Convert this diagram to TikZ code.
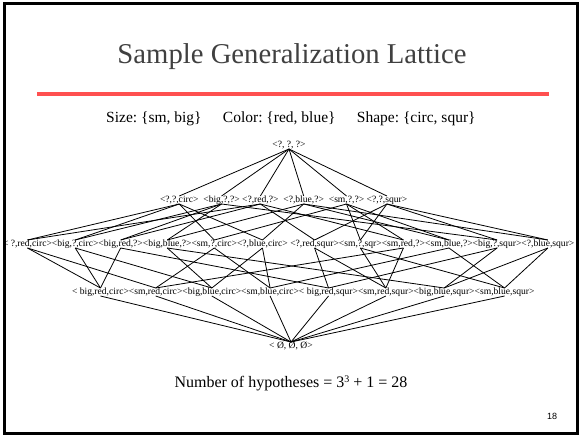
\documentclass[tikz,border=0pt]{standalone}
\usepackage{fontspec}
\setmainfont{Liberation Serif}
\newfontfamily\pagefont{Liberation Sans}
\usetikzlibrary{positioning}
\frenchspacing
\definecolor{titlegray}{HTML}{404040}
\definecolor{rulered}{HTML}{FF5050}
\tikzset{lbl/.style={inner sep=0pt,outer sep=0pt,font=\fontsize{9.6}{11}\selectfont,text height=6.5pt,text depth=1.5pt},
  link/.style={line width=0.8pt},
  big text/.style={font=\fontsize{15.5}{18}\selectfont,inner sep=0pt,text height=11pt,text depth=3.5pt}}

\begin{document}
\begin{tikzpicture}[x=1pt,y=-1pt]
\useasboundingbox (0,0) rectangle (581,436);
\draw[line width=3pt] (4,4) rectangle (577,433);
\node[text=titlegray,font=\fontsize{28.7}{34}\selectfont] (title) at (292,57) {Sample Generalization Lattice};
\draw[rulered,line width=4pt] (37,94) -- (549,94);
\node[big text,anchor=west] (size) at (106,119) {Size: \{sm, big\}};
\node[big text,right=21pt of size] (color) {Color: \{red, blue\}};
\node[big text,right=21pt of color] (shape) {Shape: \{circ, squr\}};
% lattice, most general at the top
\node[lbl] (top) at (289,145) {<?, ?, ?>};
\node[lbl,anchor=west] (qqc) at (160,200) {<?,?,circ>};
\node[lbl,right=4.8pt of qqc] (bqq) {<big,?,?>};
\node[lbl,right=2.4pt of bqq] (qrq) {<?,red,?>};
\node[lbl,right=4.8pt of qrq] (qbq) {<?,blue,?>};
\node[lbl,right=4.8pt of qbq] (sqq) {<sm,?,?>};
\node[lbl,right=2.4pt of sqq] (qqs) {<?,?,squr>};
\node[lbl,anchor=west] (qrc) at (3,244) {< ?,red,circ>};
\node[lbl,right=0pt of qrc] (bqc) {<big,?,circ>};
\node[lbl,right=0pt of bqc] (brq) {<big,red,?>};
\node[lbl,right=0pt of brq] (bbq) {<big,blue,?>};
\node[lbl,right=0pt of bbq] (sqc) {<sm,?,circ>};
\node[lbl,right=0pt of sqc] (qbc) {<?,blue,circ>};
\node[lbl,right=2.4pt of qbc] (qrs) {<?,red,squr>};
\node[lbl,right=0pt of qrs] (sqs) {<sm,?,sqr>};
\node[lbl,right=0pt of sqs] (srq) {<sm,red,?>};
\node[lbl,right=0pt of srq] (sbq) {<sm,blue,?>};
\node[lbl,right=0pt of sbq] (bqs) {<big,?,squr>};
\node[lbl,right=0pt of bqs] (qbs) {<?,blue,squr>};
\node[lbl,anchor=west] (brc) at (72,292) {< big,red,circ>};
\node[lbl,right=0pt of brc] (src) {<sm,red,circ>};
\node[lbl,right=0pt of src] (bbc) {<big,blue,circ>};
\node[lbl,right=0pt of bbc] (sbc) {<sm,blue,circ>};
\node[lbl,right=0pt of sbc] (brs) {< big,red,squr>};
\node[lbl,right=0pt of brs] (srs) {<sm,red,squr>};
\node[lbl,right=0pt of srs] (bbs) {<big,blue,squr>};
\node[lbl,right=0pt of bbs] (sbs) {<sm,blue,squr>};
\node[lbl] (bot) at (291,346) {< Ø, Ø, Ø>};
\foreach \n in {qqc,bqq,qrq,qbq,sqq,qqs}
  \draw[link] (top.south) -- (\n.north);
\foreach \a/\b in {qqc/qrc,qrq/qrc,bqq/bqc,qqc/bqc,bqq/brq,qrq/brq,bqq/bbq,qbq/bbq,
    sqq/sqc,qqc/sqc,qbq/qbc,qqc/qbc,qrq/qrs,qqs/qrs,sqq/sqs,qqs/sqs,
    sqq/srq,qrq/srq,sqq/sbq,qbq/sbq,bqq/bqs,qqs/bqs,qbq/qbs,qqs/qbs}
  \draw[link] (\a.south) -- (\b.north);
\foreach \a/\b in {qrc/brc,bqc/brc,brq/brc,qrc/src,sqc/src,srq/src,
    bqc/bbc,bbq/bbc,qbc/bbc,sqc/sbc,sbq/sbc,qbc/sbc,
    qrs/brs,brq/brs,bqs/brs,qrs/srs,sqs/srs,srq/srs,
    bbq/bbs,bqs/bbs,qbs/bbs,sqs/sbs,sbq/sbs,qbs/sbs}
  \draw[link] (\a.south) -- (\b.north);
\foreach \n in {brc,src,bbc,sbc,brs,srs,bbs,sbs}
  \draw[link] (\n.south) -- (bot.north);
\node[font=\fontsize{16}{19}\selectfont] (count) at (291,383) {Number of hypotheses = 3{\fontsize{10}{10}\selectfont\raisebox{5pt}{3}} + 1 = 28};
\node[font=\pagefont\fontsize{9}{11}\selectfont] (page) at (552,416) {18};
\end{tikzpicture}
\end{document}
